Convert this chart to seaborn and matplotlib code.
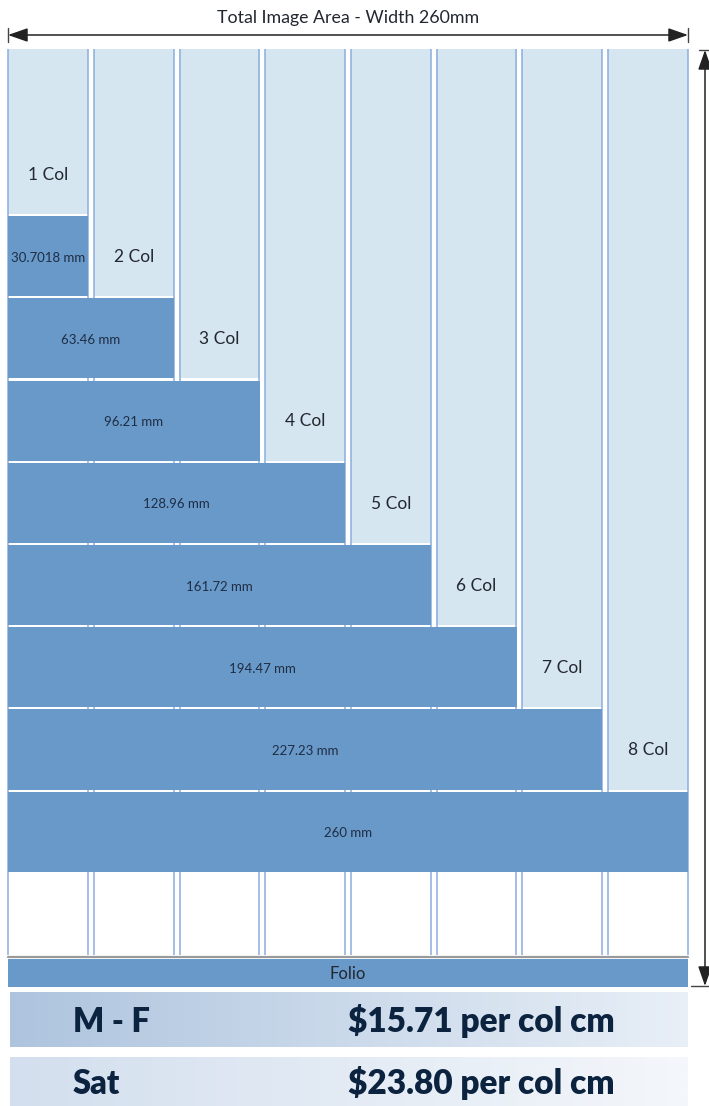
import matplotlib
matplotlib.use('Agg')
import matplotlib.pyplot as plt
import numpy as np
import pandas as pd
import seaborn as sns
from matplotlib.colors import LinearSegmentedColormap
from matplotlib.patches import Rectangle

# page grid: one ad width per column count
col_labels = ['1 Col', '2 Col', '3 Col', '4 Col', '5 Col', '6 Col', '7 Col', '8 Col']
width_mm = [30.7018, 63.46, 96.21, 128.96, 161.72, 194.47, 227.23, 260]
width_labels = ['30.7018 mm', '63.46 mm', '96.21 mm', '128.96 mm',
                '161.72 mm', '194.47 mm', '227.23 mm', '260 mm']
page_width_mm = 260

# rate card rows
days = ['M - F', 'Sat']
rates = ['$15.71 per col cm', '$23.80 per col cm']

W, H = 709, 1106
DARK = '#6899c8'
LIGHT = '#d6e6f1'
EDGE = '#8aaedc'
INK = '#23272f'
NAVY = '#0c2340'


def main() -> None:
    sns.set_theme(style='white')
    plt.rcParams['font.family'] = ['Lato', 'DejaVu Sans']

    fig = plt.figure(figsize=(W / 100, H / 100), dpi=100)

    # pixel-space overlay for the furniture around the grid
    deco = fig.add_axes([0, 0, 1, 1])
    deco.axis('off')

    # main grid: x in mm, y in rows (row k holds the k-col ad)
    top_px, bot_px = 49, 955
    ax = fig.add_axes([8 / W, (H - bot_px) / H, 680 / W, (bot_px - top_px) / H])
    ax.patch.set_alpha(0)

    n = len(width_mm)
    rows = np.arange(1, n + 1)
    col_w = width_mm[0]
    pitch = width_mm[1] - width_mm[0]
    col_left = np.arange(n) * pitch
    y_top = -1.52
    gap = 0.025

    # light column area above each ad bar
    ax.bar(col_left, (rows - 0.5 - gap / 2) - y_top, bottom=y_top, width=col_w,
           align='edge', color=LIGHT, linewidth=0, zorder=1)
    ax.vlines(np.r_[col_left + 0.15, col_left + col_w - 0.15], y_top, n + 1.5,
              color=EDGE, lw=1.1, zorder=2, clip_on=False)

    df = pd.DataFrame({'mm': width_mm, 'row': rows})
    sns.barplot(data=df, x='mm', y='row', orient='h', native_scale=True,
                color=DARK, saturation=1, width=1 - gap, errorbar=None,
                linewidth=0, zorder=3, ax=ax)

    for k in range(n):
        ax.text(col_left[k] + col_w / 2, k + 0.01, col_labels[k], ha='center', va='center',
                fontsize=12.5, color=INK, zorder=4)
        ax.text(width_mm[k] / 2, rows[k] + 0.02, width_labels[k], ha='center', va='center',
                fontsize=9.5, color='#1f2d45', zorder=4)

    ax.set_xlim(0, page_width_mm)
    ax.set_ylim(n + 1.5, y_top)
    ax.axis('off')

    # title with width arrow
    deco.text(348, 18, 'Total Image Area - Width 260mm', ha='center', va='center',
              fontsize=12.8, color=INK)
    arrow = dict(arrowstyle='<|-|>,head_length=1.2,head_width=0.42', color='#222222',
                 lw=1.1, shrinkA=0, shrinkB=0, mutation_scale=10)
    deco.annotate('', xy=(8, 35), xytext=(688, 35), arrowprops=arrow)
    deco.plot([8, 8], [28, 42], color='#444444', lw=1)
    deco.plot([688, 688], [28, 42], color='#444444', lw=1)

    # height arrow on the right
    deco.annotate('', xy=(705, 50), xytext=(705, 986), arrowprops=arrow)
    deco.plot([699, 709], [50, 50], color='#444444', lw=1)
    deco.plot([691, 709], [986, 986], color='#444444', lw=1)

    # folio strip
    deco.plot([8, 688], [957, 957], color='#9a9a9a', lw=1.6)
    deco.add_patch(Rectangle((8, 958.5), 680, 28.5, color=DARK, lw=0))
    deco.text(348, 974, 'Folio', ha='center', va='center', fontsize=12, color=INK)

    # rate rows with soft gradients
    bands = [(992, 1047, '#aec4de', '#e8eff7'), (1057, 1106, '#d3dfee', '#f4f7fb')]
    grad = np.linspace(0, 1, 256)[None, :]
    for (y0, y1, c0, c1), day, rate in zip(bands, days, rates):
        cmap = LinearSegmentedColormap.from_list('band', [c0, c1])
        deco.imshow(grad, cmap=cmap, extent=[10, 688, y1, y0], aspect='auto', zorder=1)
        ym = (y0 + y1) / 2 + 2
        deco.text(73, ym, day, ha='left', va='center', fontsize=23.5,
                  fontweight='heavy', color=NAVY, zorder=2)
        deco.text(348, ym, rate, ha='left', va='center', fontsize=24,
                  fontweight='heavy', color=NAVY, zorder=2)

    deco.set_xlim(0, W)
    deco.set_ylim(H, 0)

    fig.savefig('out.png', dpi=100)
    plt.close(fig)


if __name__ == '__main__':
    main()
